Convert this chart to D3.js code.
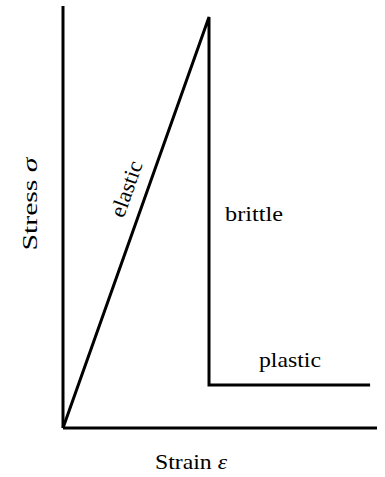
<!DOCTYPE html>
<html>
<head>
<meta charset="utf-8">
<script src="https://cdn.jsdelivr.net/npm/d3@7"></script>
<style>
  html, body { margin: 0; padding: 0; background: #fff; }
  svg { display: block; }
  text { font-family: "Liberation Serif", "Times New Roman", serif; fill: #000; }
</style>
</head>
<body>
<svg id="chart" width="385" height="477"></svg>
<script>
// Idealised stress–strain response (arbitrary units, 0–100)
const strain = [0, 46.5, 46.5, 97.8];
const stress = [0, 97.4, 10.2, 10.2];
const regionLabels = ["elastic", "brittle", "plastic"];
const axisTitles = { x: "Strain ", y: "Stress " };
const axisSymbols = { x: "ε", y: "σ" };

const svg = d3.select("#chart");
const origin = { x: 63, y: 428 };

const x = d3.scaleLinear().domain([0, 100]).range([origin.x, 377]);
const y = d3.scaleLinear().domain([0, 100]).range([origin.y, 6]);

// Axes drawn as plain lines (no ticks)
svg.append("line")
  .attr("x1", x(0)).attr("y1", y(0))
  .attr("x2", x(0)).attr("y2", y(100))
  .attr("stroke", "#000").attr("stroke-width", 3);
svg.append("line")
  .attr("x1", x(0)).attr("y1", y(0))
  .attr("x2", x(100)).attr("y2", y(0))
  .attr("stroke", "#000").attr("stroke-width", 3);

// Response curve
const pts = strain.map((s, i) => [s, stress[i]]);
const line = d3.line().x(d => x(d[0])).y(d => y(d[1]));
svg.append("path")
  .attr("d", line(pts))
  .attr("fill", "none")
  .attr("stroke", "#000")
  .attr("stroke-width", 3)
  .attr("stroke-linejoin", "miter")
  .attr("stroke-miterlimit", 3);

// "elastic" label, set along the rising segment on its upper-left side
const p0 = [x(pts[0][0]), y(pts[0][1])];
const p1 = [x(pts[1][0]), y(pts[1][1])];
const ang = Math.atan2(p1[1] - p0[1], p1[0] - p0[0]) * 180 / Math.PI;
const t = 0.565;
const mx = p0[0] + (p1[0] - p0[0]) * t;
const my = p0[1] + (p1[1] - p0[1]) * t;
const len = Math.hypot(p1[0] - p0[0], p1[1] - p0[1]);
const nx = (p1[1] - p0[1]) / len, ny = -(p1[0] - p0[0]) / len;
const off = 13;
svg.append("text")
  .attr("transform", `translate(${mx + nx * off},${my + ny * off}) rotate(${ang})`)
  .attr("text-anchor", "middle")
  .attr("font-size", 22)
  .attr("textLength", 58)
  .attr("lengthAdjust", "spacingAndGlyphs")
  .text(regionLabels[0]);

// "brittle" beside the drop
svg.append("text")
  .attr("x", x(pts[1][0]) + 16)
  .attr("y", 221)
  .attr("font-size", 22)
  .attr("textLength", 58)
  .attr("lengthAdjust", "spacingAndGlyphs")
  .text(regionLabels[1]);

// "plastic" above the plateau
svg.append("text")
  .attr("x", 259)
  .attr("y", y(pts[3][1]) - 18)
  .attr("font-size", 22)
  .attr("textLength", 62)
  .attr("lengthAdjust", "spacingAndGlyphs")
  .text(regionLabels[2]);

// Axis titles
const xt = svg.append("text")
  .attr("x", 191).attr("y", 469)
  .attr("text-anchor", "middle")
  .attr("font-size", 22)
  .attr("textLength", 72)
  .attr("lengthAdjust", "spacingAndGlyphs");
xt.append("tspan").text(axisTitles.x);
xt.append("tspan").attr("font-style", "italic").text(axisSymbols.x);

const yt = svg.append("text")
  .attr("transform", "translate(37,204) rotate(-90)")
  .attr("text-anchor", "middle")
  .attr("font-size", 22)
  .attr("textLength", 93)
  .attr("lengthAdjust", "spacingAndGlyphs");
yt.append("tspan").text(axisTitles.y);
yt.append("tspan").attr("font-style", "italic").text(axisSymbols.y);
</script>
</body>
</html>
